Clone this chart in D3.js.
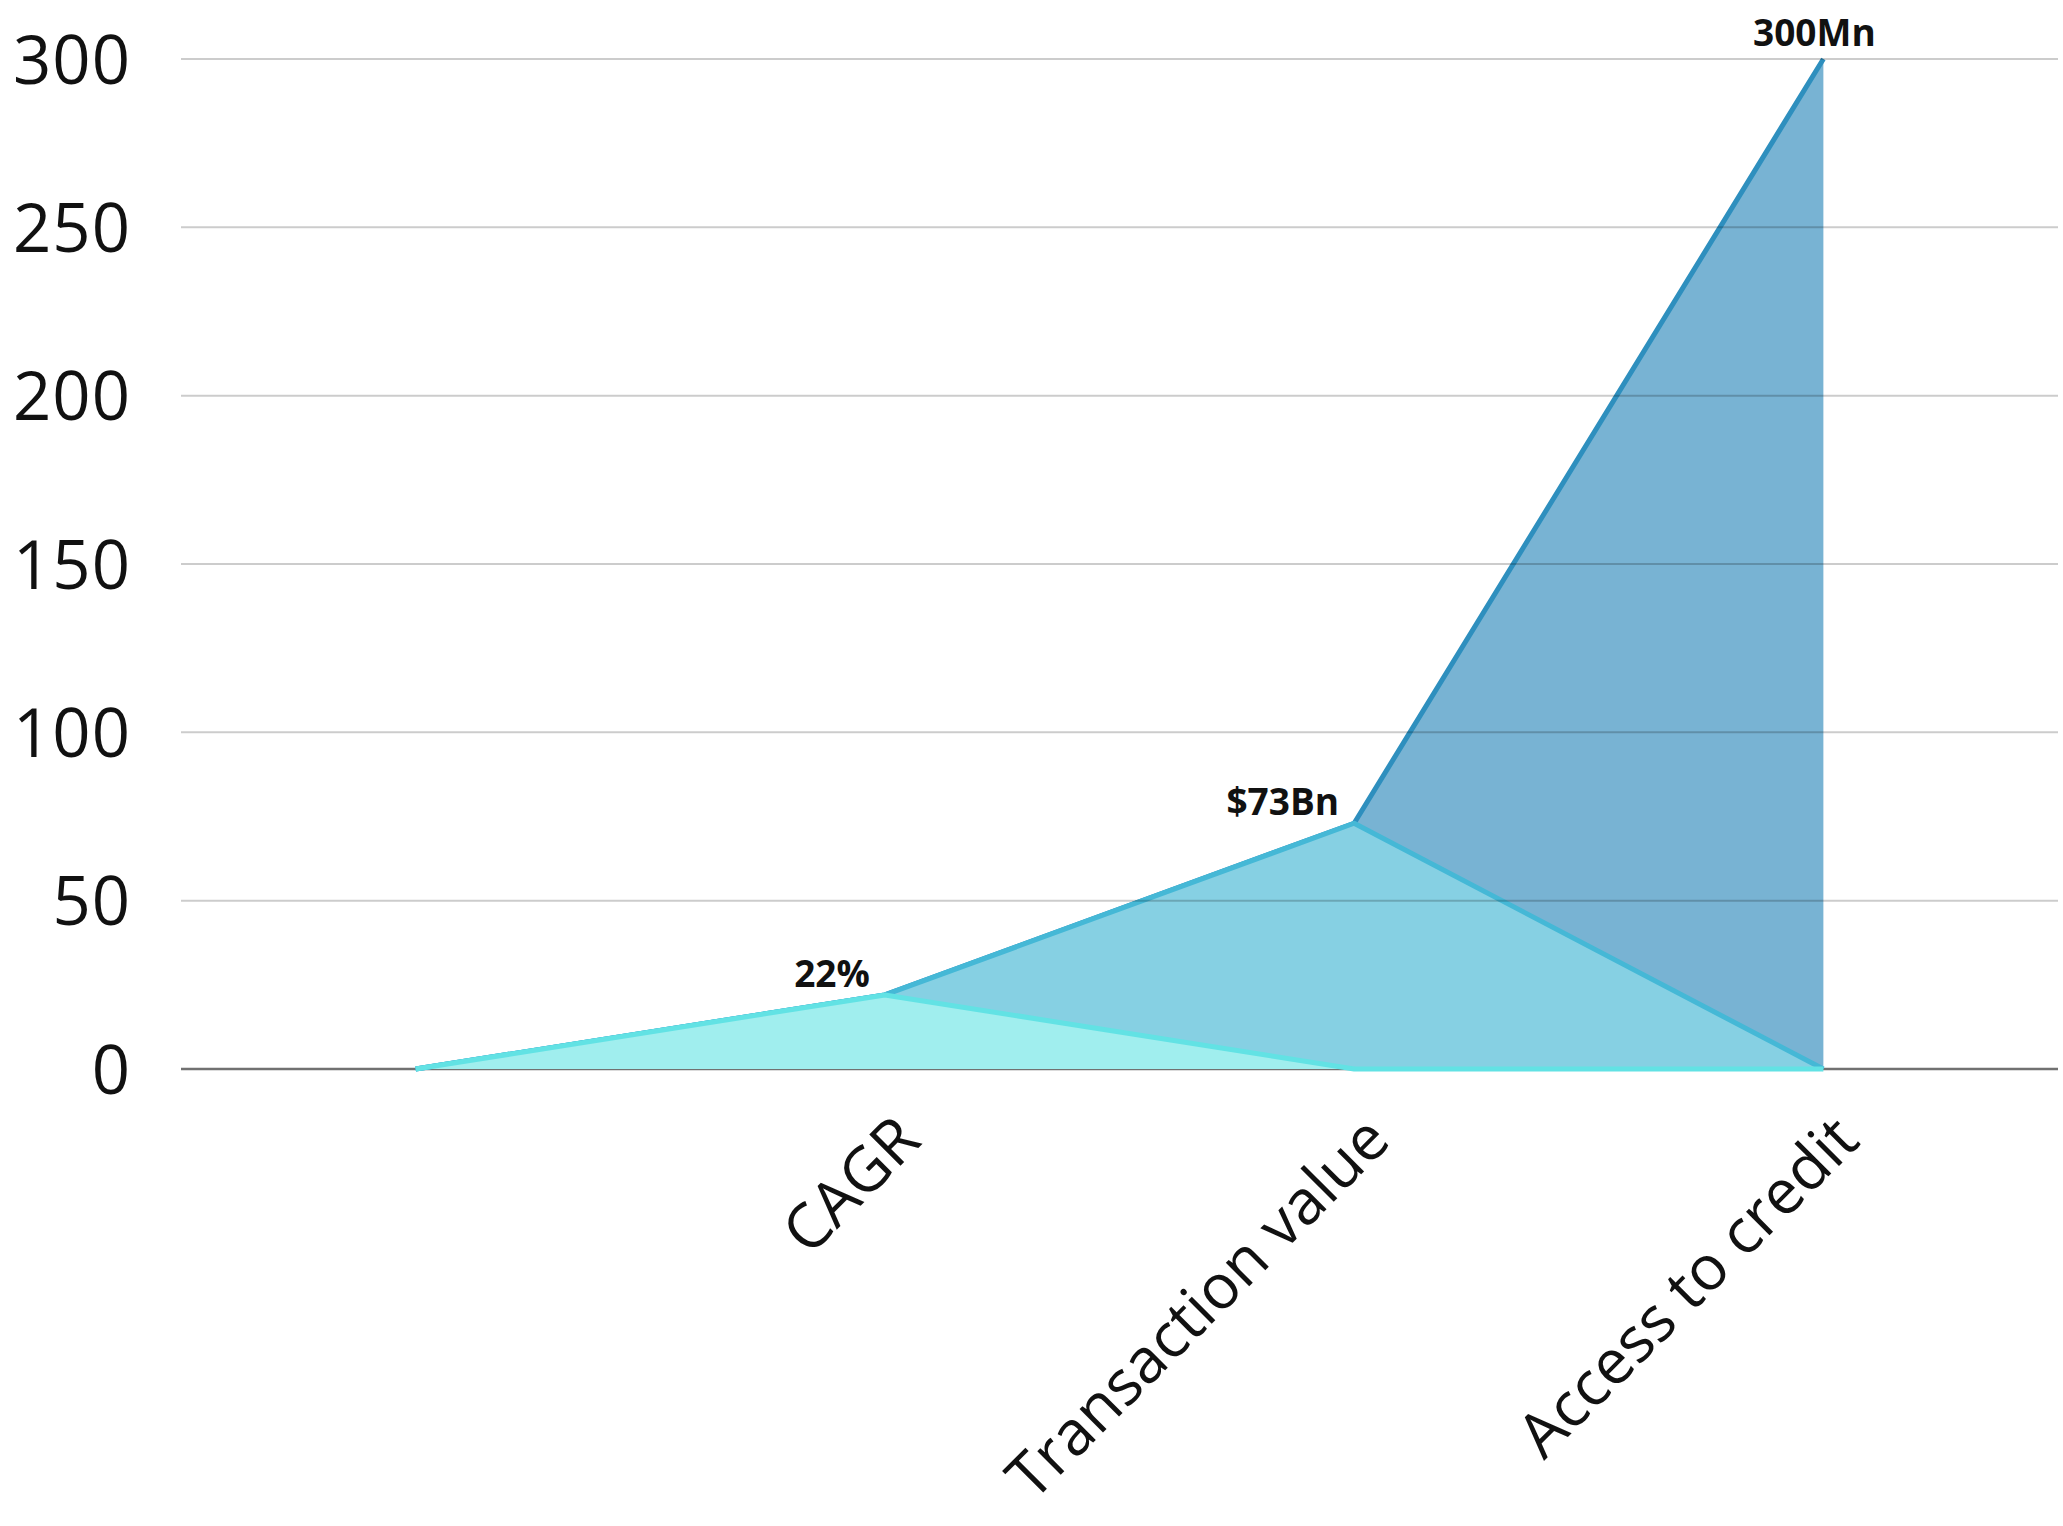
<!DOCTYPE html>
<html>
<head>
<meta charset="utf-8">
<script src="https://cdn.jsdelivr.net/npm/d3@7"></script>
<style>
  body { margin: 0; background: #fff; }
</style>
</head>
<body>
<svg id="chart"></svg>
<script>
// data
const categories = ['', 'CAGR', 'Transaction value', 'Access to credit'];
const cagrValues = [0, 22, 0, 0];
const transactionValues = [0, 22, 73, 0];
const accessValues = [0, 22, 73, 300];
const valueLabels = ['', '22%', '$73Bn', '300Mn'];
const yTicks = [0, 50, 100, 150, 200, 250, 300];

const w = 2063, h = 1526;
const margins = {top: 59, right: 5, bottom: 457, left: 181};
const font = "'Open Sans', sans-serif";

const chart = d3.select('#chart')
  .attr('width', w)
  .attr('height', h);

const xScale = d3.scalePoint()
  .domain(categories)
  .range([margins.left, w - margins.right])
  .padding(0.5);

const yScale = d3.scaleLinear()
  .domain([0, 300])
  .range([h - margins.bottom, margins.top]);

// layers drawn back to front
const series = [
  {values: accessValues, fill: '#78b3d3', stroke: '#2e8fbe'},
  {values: transactionValues, fill: '#86d0e3', stroke: '#45b8d6'},
  {values: cagrValues, fill: '#a0eeee', stroke: '#62e2e4'}
];

// zero line sits under the areas
chart.append('line')
  .attr('x1', margins.left)
  .attr('x2', w - margins.right)
  .attr('y1', yScale(0))
  .attr('y2', yScale(0))
  .style('stroke', '#717171')
  .style('stroke-width', 2.5);

const area = d3.area()
  .x((d, i) => xScale(categories[i]))
  .y0(yScale(0))
  .y1(d => yScale(d));

const line = d3.line()
  .x((d, i) => xScale(categories[i]))
  .y(d => yScale(d));

series.forEach(s => {
  chart.append('path')
    .datum(s.values)
    .attr('d', area)
    .style('fill', s.fill);
  chart.append('path')
    .datum(s.values)
    .attr('d', line)
    .style('fill', 'none')
    .style('stroke', s.stroke)
    .style('stroke-width', 5)
    .style('stroke-linejoin', 'round');
});

// gridlines on top, see-through so the areas show under them
chart.append('g')
  .selectAll('line')
  .data(yTicks.filter(t => t > 0))
  .join('line')
  .attr('x1', margins.left)
  .attr('x2', w - margins.right)
  .attr('y1', d => yScale(d))
  .attr('y2', d => yScale(d))
  .style('stroke', 'rgba(0,0,0,0.2)')
  .style('stroke-width', 2);

// Y AXIS
const yAxisGroup = chart.append('g')
  .attr('transform', `translate(${margins.left}, 0)`)
  .call(d3.axisLeft(yScale).tickValues(yTicks).tickSize(0).tickPadding(50));
yAxisGroup.select('.domain').remove();
yAxisGroup.selectAll('text')
  .attr('dy', '0.36em')
  .style('font-family', font)
  .style('font-size', '67px')
  .style('letter-spacing', '1px')
  .style('fill', '#111');

// X AXIS
const xAxisGroup = chart.append('g')
  .attr('transform', `translate(0, ${yScale(0)})`)
  .call(d3.axisBottom(xScale).tickSize(0));
xAxisGroup.select('.domain').remove();
xAxisGroup.selectAll('text')
  .attr('x', 0)
  .attr('y', 0)
  .attr('dy', null)
  .attr('text-anchor', 'end')
  .attr('transform', 'translate(38, 74) rotate(-45)')
  .style('font-family', font)
  .style('font-size', '62px')
  .style('fill', '#111');

// value labels at the peaks
chart.append('g')
  .selectAll('text')
  .data(valueLabels)
  .join('text')
  .attr('x', (d, i) => xScale(categories[i]) + (i === categories.length - 1 ? -9 : -15))
  .attr('y', (d, i) => yScale(accessValues[i]) + (i === categories.length - 1 ? -13 : -8))
  .attr('text-anchor', (d, i) => i === categories.length - 1 ? 'middle' : 'end')
  .style('font-family', font)
  .style('font-weight', 700)
  .style('font-size', '37px')
  .style('fill', '#111')
  .text(d => d);
</script>
</body>
</html>
